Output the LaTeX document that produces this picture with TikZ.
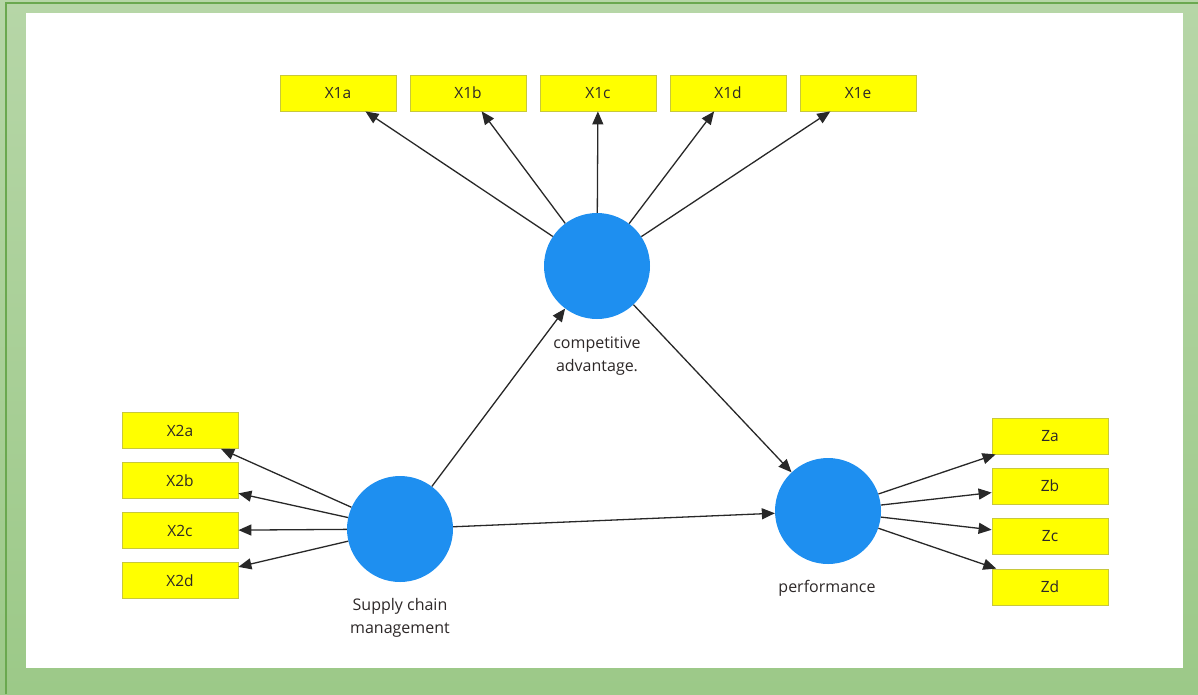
\documentclass[tikz,border=0pt]{standalone}
\usepackage{fontspec}
\setmainfont{Open Sans}
\usetikzlibrary{arrows.meta}
\definecolor{gLight}{RGB}{182,214,167}
\definecolor{gDark}{RGB}{156,201,136}
\definecolor{gLine}{RGB}{106,168,79}
\definecolor{bYel}{RGB}{255,255,0}
\definecolor{bYelLine}{RGB}{200,200,60}
\definecolor{cBlue}{RGB}{30,143,240}
\definecolor{aGray}{RGB}{40,40,40}
\definecolor{tDark}{RGB}{45,40,40}
\tikzset{
  ind/.style={draw=bYelLine, line width=0.8pt, fill=bYel, minimum width=116pt, minimum height=36pt, inner sep=0pt, font=\fontsize{15.5}{18}\selectfont, text=tDark},
  lat/.style={circle, fill=cBlue, minimum size=106pt, inner sep=0pt},
  lbl/.style={font=\fontsize{16}{24}\selectfont, text=tDark, align=center},
  arr/.style={draw=aGray, line width=1.3pt, -{Triangle[length=13pt,width=11pt]}}
}
\begin{document}
\begin{tikzpicture}[x=1pt,y=-1pt]
\useasboundingbox (0,0) rectangle (1198,694);
\shade[top color=gLight, bottom color=gDark] (0,0) rectangle (1198,694);
\draw[gLine, line width=1.2pt] (6,694) -- (6,3) -- (1198,3);
\fill[white] (26,13) rectangle (1183,668);

% latent variables
\node[lat] (CA) at (597,266) {};
\node[lat] (SCM) at (400,529) {};
\node[lat] (PF) at (828,511) {};

\node[lbl] (CAl) at (597,356) {competitive\\[-1pt]advantage.};
\node[lbl] (SCMl) at (400,618) {Supply chain\\[-1pt]management};
\node[lbl] (PFl) at (827,588) {performance};

% indicators
\node[ind] (X1a) at (338,93) {X1a};
\node[ind] (X1b) at (468,93) {X1b};
\node[ind] (X1c) at (598,93) {X1c};
\node[ind] (X1d) at (728,93) {X1d};
\node[ind] (X1e) at (858,93) {X1e};

\node[ind] (X2a) at (180,430.5) {X2a};
\node[ind] (X2b) at (180,480.5) {X2b};
\node[ind] (X2c) at (180,530.5) {X2c};
\node[ind] (X2d) at (180,580.5) {X2d};

\node[ind] (Za) at (1050,436) {Za};
\node[ind] (Zb) at (1050,486) {Zb};
\node[ind] (Zc) at (1050,536.5) {Zc};
\node[ind] (Zd) at (1050,587) {Zd};

% connectors
\foreach \t in {X1a,X1b,X1c,X1d,X1e} \draw[arr] (CA) -- (\t);
\foreach \t in {X2a,X2b,X2c,X2d} \draw[arr] (SCM) -- (\t);
\foreach \t in {Za,Zb,Zc,Zd} \draw[arr] (PF) -- (\t);
\draw[arr] (SCM) -- (CA);
\draw[arr] (CA) -- (PF);
\draw[arr] (SCM) -- (PF);
\end{tikzpicture}
\end{document}
